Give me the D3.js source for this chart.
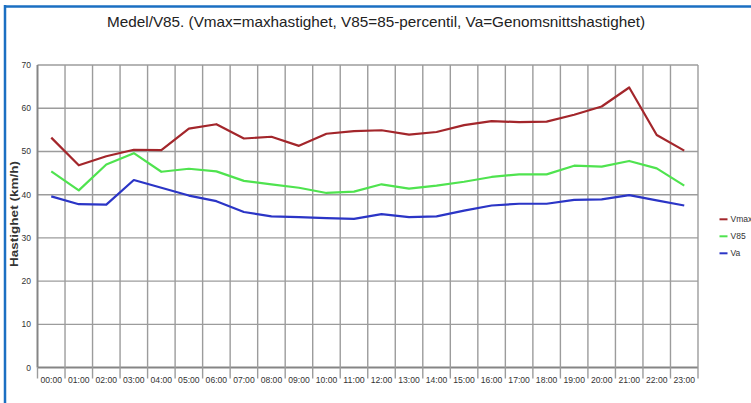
<!DOCTYPE html>
<html><head><meta charset="utf-8">
<script src="https://cdn.jsdelivr.net/npm/d3@7/dist/d3.min.js"></script>
<style>body{margin:0;background:#fff;}svg{display:block;font-family:"Liberation Sans",Arial,sans-serif;}</style>
</head><body>
<svg id="c" width="751" height="403"></svg>
<script>
const hours = ["00:00","01:00","02:00","03:00","04:00","05:00","06:00","07:00","08:00","09:00","10:00","11:00","12:00","13:00","14:00","15:00","16:00","17:00","18:00","19:00","20:00","21:00","22:00","23:00"];
const vmax = [53.2,46.8,48.9,50.4,50.3,55.3,56.3,53.0,53.4,51.3,54.1,54.7,54.9,53.9,54.5,56.1,57.0,56.8,56.9,58.5,60.4,64.8,53.8,50.2];
const v85  = [45.4,41.0,47.0,49.6,45.3,46.0,45.4,43.2,42.4,41.6,40.4,40.7,42.4,41.4,42.1,43.0,44.1,44.7,44.7,46.7,46.5,47.8,46.1,42.1];
const va   = [39.6,37.8,37.7,43.4,41.6,39.8,38.5,36.0,35.0,34.8,34.6,34.4,35.5,34.8,35.0,36.3,37.5,37.9,37.9,38.8,38.9,39.9,38.7,37.5];
const yTicks = [0,10,20,30,40,50,60,70];
const seriesNames = ["Vmax","V85","Va"];
const seriesColors = ["#a3262b","#4fe34f","#2b35c6"];
const seriesData = [vmax, v85, va];

const svg = d3.select("#c");
const L = 37.5, R = 698, T = 65, B = 367.6;

// frame
svg.append("line").attr("x1",5).attr("x2",5).attr("y1",5).attr("y2",403).attr("stroke","#1b6fc2").attr("stroke-width",2.5);
svg.append("line").attr("x1",4).attr("x2",751).attr("y1",6.5).attr("y2",6.5).attr("stroke","#1b6fc2").attr("stroke-width",2.5);

const x = d3.scaleBand().domain(hours).range([L,R]).padding(0);
const y = d3.scaleLinear().domain([0,70]).range([B,T]);

const g = svg.append("g");
const gridCol = "#9c9c9c";
// horizontal grid
g.selectAll("line.h").data(yTicks).join("line")
  .attr("x1",L).attr("x2",R).attr("y1",d=>y(d)).attr("y2",d=>y(d))
  .attr("stroke",d=>d===0?"#858585":gridCol).attr("stroke-width",d=>d===0?2:1.4);
// vertical grid (band boundaries), extended as ticks below
const bounds = hours.map(h=>x(h)).concat([R]);
g.selectAll("line.v").data(bounds).join("line")
  .attr("x1",d=>d).attr("x2",d=>d).attr("y1",T).attr("y2",(d,i)=>i===0?B:378.5)
  .attr("stroke",(d,i)=>i===0?"#858585":gridCol).attr("stroke-width",(d,i)=>i===0?2:1.4);
g.selectAll("line.t0").data([L]).join("line")
  .attr("x1",d=>d).attr("x2",d=>d).attr("y1",B).attr("y2",378.5)
  .attr("stroke",gridCol).attr("stroke-width",1.4);

// y tick labels
svg.selectAll("text.yt").data(yTicks).join("text")
  .attr("x",31).attr("y",d=>y(d)+3).attr("text-anchor","end")
  .attr("font-size",8.5).attr("fill","#333").text(d=>d);
// x tick labels
svg.selectAll("text.xt").data(hours).join("text")
  .attr("x",d=>x(d)+x.bandwidth()/2).attr("y",383).attr("text-anchor","middle")
  .attr("font-size",8.3).attr("fill","#333").attr("textLength",21.5).attr("lengthAdjust","spacingAndGlyphs").text(d=>d);

// y axis title
svg.append("text").attr("transform","translate(18,214) rotate(-90)")
  .attr("text-anchor","middle").attr("font-size",11.5).attr("font-weight","bold").attr("fill","#333")
  .attr("textLength",106).attr("lengthAdjust","spacingAndGlyphs")
  .text("Hastighet (km/h)");

// title
svg.append("text").attr("x",376).attr("y",27).attr("text-anchor","middle")
  .attr("font-size",14.5).attr("fill","#222").attr("textLength",538).attr("lengthAdjust","spacingAndGlyphs")
  .text("Medel/V85. (Vmax=maxhastighet, V85=85-percentil, Va=Genomsnittshastighet)");

// lines
const line = d3.line().x((d,i)=>x(hours[i])+x.bandwidth()/2).y(d=>y(d));
seriesData.forEach((s,k)=>{
  svg.append("path").datum(s).attr("d",line).attr("fill","none")
    .attr("stroke",seriesColors[k]).attr("stroke-width",2.2).attr("stroke-linejoin","round");
});

// legend
const leg = svg.selectAll("g.leg").data(seriesNames).join("g")
  .attr("transform",(d,i)=>`translate(719.5,${219.3+i*17})`);
leg.append("line").attr("x1",0).attr("x2",8).attr("y1",0).attr("y2",0)
  .attr("stroke",(d,i)=>seriesColors[i]).attr("stroke-width",2);
leg.append("text").attr("x",11).attr("y",3).attr("font-size",8.5).attr("fill","#333").text(d=>d);
</script>
</body></html>
